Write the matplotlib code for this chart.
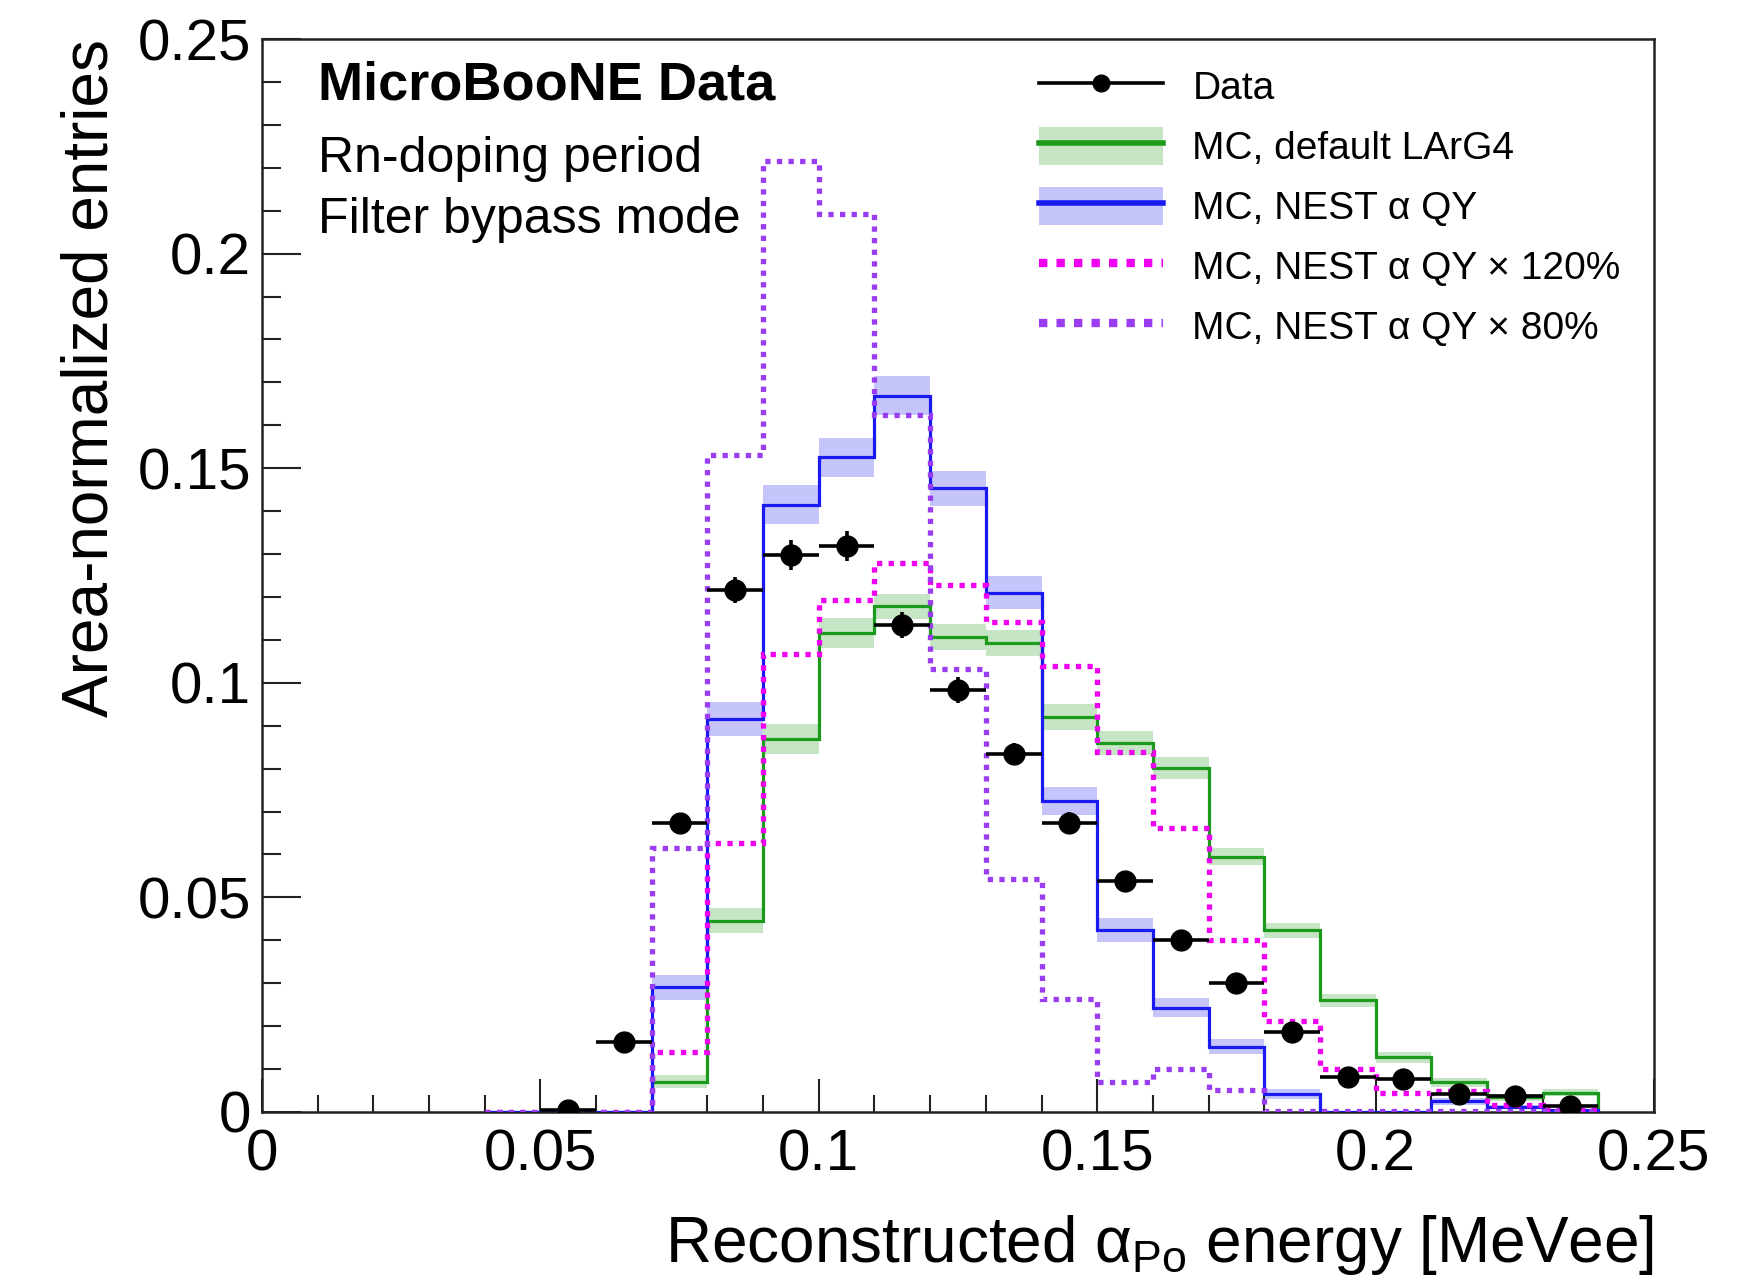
import numpy as np
import matplotlib
matplotlib.use("Agg")
import matplotlib.pyplot as plt
from matplotlib.lines import Line2D
from matplotlib.patches import Patch

plt.rcParams['font.family'] = ['Liberation Sans', 'DejaVu Sans']
plt.rcParams['mathtext.fontset'] = 'custom'
plt.rcParams['mathtext.rm'] = 'Liberation Sans'
plt.rcParams['mathtext.it'] = 'Liberation Sans'

# bin edges of the MC histograms, 0.04 - 0.24 MeVee in 0.01 steps
edges = np.round(np.arange(0.04, 0.2401, 0.01), 3)

mc_default = [0, 0, 0, 0.0070, 0.0446, 0.0869, 0.1115, 0.1178, 0.1107, 0.1092,
              0.0921, 0.0859, 0.0801, 0.0595, 0.0423, 0.0260, 0.0127, 0.0069, 0.0034, 0.0045]
mc_default_err = [0, 0, 0, 0.0015, 0.003, 0.0035, 0.0035, 0.003, 0.003, 0.003,
                  0.003, 0.0028, 0.0025, 0.002, 0.0018, 0.0015, 0.0012, 0.001, 0.0008, 0.0008]
mc_nest = [0, 0, 0, 0.0290, 0.0916, 0.1415, 0.1525, 0.1669, 0.1453, 0.1210,
           0.0725, 0.0423, 0.0243, 0.0152, 0.0041, 0.0, 0.0, 0.0025, 0.0012, 0.0005]
mc_nest_err = [0, 0, 0, 0.003, 0.004, 0.0045, 0.0045, 0.0045, 0.004, 0.0038,
               0.0032, 0.0028, 0.0022, 0.0018, 0.0012, 0, 0, 0.0008, 0.0005, 0.0003]
mc_nest_120 = [0, 0, 0, 0.0139, 0.0626, 0.1068, 0.1194, 0.1280, 0.1229, 0.1141,
               0.1038, 0.0838, 0.0662, 0.0400, 0.0211, 0.0101, 0.0043, 0.0048, 0.0015, 0.0005]
mc_nest_80 = [0, 0, 0, 0.0616, 0.1531, 0.2215, 0.2093, 0.1625, 0.1031, 0.0542,
              0.0262, 0.0069, 0.0099, 0.0052, 0.0003, 0.0002, 0.0002, 0.0003, 0.0002, 0.0003]

# data points, bins 0.05 - 0.24
data_x = np.round(np.arange(0.055, 0.24, 0.01), 3)
data_y = [0.0005, 0.0162, 0.0673, 0.1217, 0.1298, 0.1319, 0.1134, 0.0984, 0.0835, 0.0673,
          0.0537, 0.0400, 0.0301, 0.0187, 0.0081, 0.0077, 0.0042, 0.0037, 0.0013]
data_err = [0.0005, 0.001, 0.002, 0.003, 0.0035, 0.0035, 0.003, 0.003, 0.0025, 0.0025,
            0.002, 0.002, 0.0015, 0.0015, 0.001, 0.001, 0.0008, 0.0008, 0.0005]

green = '#1b9a1b'
blue = '#1a1af0'
magenta = '#f000f0'
violet = '#9a3cf0'
dots = (0, (1, 1.2))

fig = plt.figure(figsize=(17.62, 12.80), dpi=100)
ax = fig.add_axes([0.1487, 0.1313, 0.79, 0.8382])

centers = 0.5 * (edges[:-1] + edges[1:])
w = 0.01

def band(vals, errs, color):
    vals = np.array(vals); errs = np.array(errs)
    m = errs > 0
    ax.bar(centers[m], 2 * errs[m], bottom=vals[m] - errs[m], width=w,
           color=color, alpha=0.25, linewidth=0, zorder=1)

band(mc_default, mc_default_err, green)
ax.stairs(mc_default, edges, color=green, lw=2.3, zorder=2)
band(mc_nest, mc_nest_err, blue)
ax.stairs(mc_nest, edges, color=blue, lw=2.3, zorder=3)
ax.stairs(mc_nest_120, edges, color=magenta, lw=3.8, linestyle=dots, zorder=4)
ax.stairs(mc_nest_80, edges, color=violet, lw=3.8, linestyle=dots, zorder=5)

ax.errorbar(data_x, data_y, xerr=0.005, yerr=data_err, fmt='o', color='k',
            ms=15, elinewidth=2.6, capsize=0, zorder=6)

ax.set_xlim(0, 0.25)
ax.set_ylim(0, 0.25)
ax.set_xticks([0, 0.05, 0.1, 0.15, 0.2, 0.25])
ax.set_xticklabels(['0', '0.05', '0.1', '0.15', '0.2', '0.25'])
ax.set_yticks([0, 0.05, 0.1, 0.15, 0.2, 0.25])
ax.set_yticklabels(['0', '0.05', '0.1', '0.15', '0.2', '0.25'])
ax.set_xticks(np.arange(0, 0.2501, 0.01), minor=True)
ax.set_yticks(np.arange(0, 0.2501, 0.01), minor=True)
ax.tick_params(axis='both', which='both', direction='in', labelsize=42, width=1.5, color='#222222')
ax.tick_params(axis='x', which='major', length=24, pad=12)
ax.tick_params(axis='x', which='minor', length=12)
ax.tick_params(axis='y', which='major', length=28, pad=8)
ax.tick_params(axis='y', which='minor', length=14)
for s in ax.spines.values():
    s.set_linewidth(1.8)
    s.set_color('#222222')

ax.set_ylabel('Area-normalized entries', fontsize=46, loc='top', labelpad=12)
ax.set_xlabel(r'Reconstructed $\alpha_{\mathrm{Po}}$ energy [MeVee]', fontsize=46,
              loc='right', labelpad=22)

ax.text(0.04, 0.98, 'MicroBooNE Data', transform=ax.transAxes, fontsize=39,
        fontweight='bold', va='top', ha='left')
ax.text(0.04, 0.91, 'Rn-doping period', transform=ax.transAxes, fontsize=36,
        va='top', ha='left')
ax.text(0.04, 0.853, 'Filter bypass mode', transform=ax.transAxes, fontsize=36,
        va='top', ha='left')

handles = [
    Line2D([], [], color='k', marker='o', ms=12, lw=2.6),
    (Patch(facecolor=green, alpha=0.25, linewidth=0), Line2D([], [], color=green, lw=4)),
    (Patch(facecolor=blue, alpha=0.25, linewidth=0), Line2D([], [], color=blue, lw=4)),
    Line2D([], [], color=magenta, lw=6, linestyle=(0, (1, 1.1))),
    Line2D([], [], color=violet, lw=6, linestyle=(0, (1, 1.1))),
]
labels = ['Data', 'MC, default LArG4', 'MC, NEST α QY', 'MC, NEST α QY × 120%',
          'MC, NEST α QY × 80%']
ax.legend(handles, labels, loc='upper left', bbox_to_anchor=(0.558, 0.974),
          frameon=False, fontsize=28, handlelength=3.2, handleheight=1.15,
          handletextpad=0.75, labelspacing=0.5, borderpad=0, borderaxespad=0)

fig.savefig('out.png', dpi=100)
